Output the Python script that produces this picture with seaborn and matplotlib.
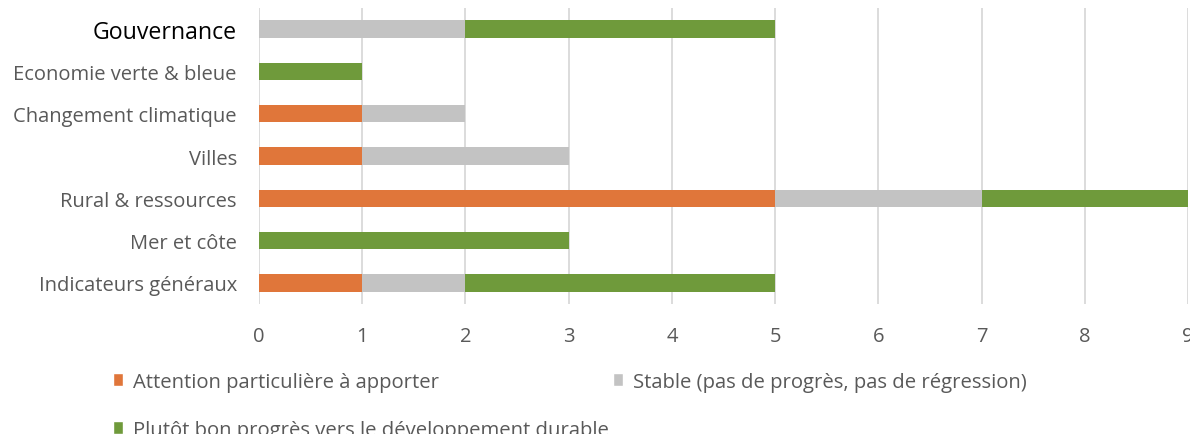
import pandas as pd
import seaborn as sns
import matplotlib.pyplot as plt
from matplotlib.patches import Patch

'''---------------------------------- Data ----------------------------------'''
categories = ['Gouvernance', 'Economie verte & bleue', 'Changement climatique',
              'Villes', 'Rural & ressources', 'Mer et côte', 'Indicateurs généraux']
attention = [0, 0, 1, 1, 5, 0, 1]
stable = [2, 0, 1, 2, 2, 0, 1]
progres = [3, 1, 0, 0, 2, 3, 3]
series_labels = ['Attention particulière à apporter',
                 'Stable (pas de progrès, pas de régression)',
                 'Plutôt bon progrès vers le développement durable']

c_orange = '#E0763A'
c_grey = '#C3C3C3'
c_green = '#6F9A3B'
txt_grey = '#595959'

'''------------------------------ Build frame -------------------------------'''
df = pd.DataFrame({'cat': categories, 'attention': attention,
                   'stable': stable, 'progres': progres})
df['cum_stable'] = df['attention'] + df['stable']
df['cum_total'] = df['cum_stable'] + df['progres']

sns.set_style('white')
plt.rcParams['font.family'] = ['Open Sans', 'DejaVu Sans']

fig = plt.figure(figsize=(11.9, 4.35), dpi=100)
ax = fig.add_axes([259 / 1190, 1 - 305 / 435, (1188 - 259) / 1190, (305 - 9) / 435])

# stacked bars: draw cumulative totals back to front
for col, colour in [('cum_total', c_green), ('cum_stable', c_grey), ('attention', c_orange)]:
  sns.barplot(data=df, x=col, y='cat', order=categories, color=colour,
              orient='h', width=0.41, ax=ax, saturation=1, linewidth=0, zorder=3)

ax.set_xlim(0, 9)
ax.set_ylim(6.5, -0.5)
ax.set_xticks(range(0, 10))
ax.grid(axis='x', color='#D9D9D9', linewidth=1.3, zorder=0)
ax.grid(axis='y', visible=False)
for s in ax.spines.values():
  s.set_visible(False)
ax.set_xlabel('')
ax.set_ylabel('')
ax.tick_params(axis='y', length=0, pad=16, labelsize=14.5, labelcolor=txt_grey)
ax.tick_params(axis='x', length=0, pad=16, labelsize=14.5, labelcolor=txt_grey)
for lab in ax.get_yticklabels():
  if lab.get_text() == 'Gouvernance':
    lab.set_color('black')
    lab.set_fontsize(16.7)

handles = [Patch(facecolor=c_orange), Patch(facecolor=c_green), Patch(facecolor=c_grey)]
labels = [series_labels[0], series_labels[2], series_labels[1]]
fig.legend(handles, labels, loc='upper left', bbox_to_anchor=(113 / 1190, 1 - 373 / 435),
           ncol=2, frameon=False, fontsize=14.6, labelcolor=txt_grey,
           handlelength=0.5, handleheight=0.6, handletextpad=0.5,
           labelspacing=1.38, columnspacing=0.2, borderaxespad=0, borderpad=0)

fig.savefig('out.png', dpi=100)
